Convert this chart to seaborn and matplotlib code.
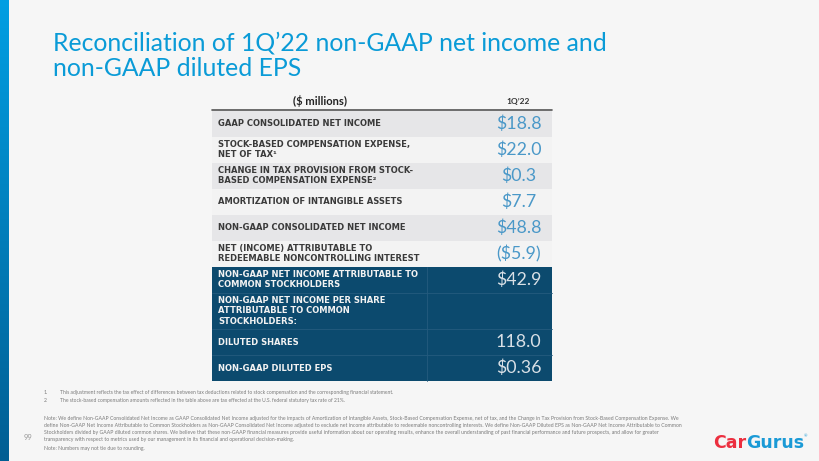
# Importación de las bibliotecas necesarias
import numpy as np                 # Para el degradado de la barra lateral
import matplotlib.pyplot as plt    # Para dibujar la diapositiva
import seaborn as sns              # Para el estilo general

# Datos de la tabla de conciliación
row_labels = [
    "GAAP CONSOLIDATED NET INCOME",
    "STOCK-BASED COMPENSATION EXPENSE,\nNET OF TAX¹",
    "CHANGE IN TAX PROVISION FROM STOCK-\nBASED COMPENSATION EXPENSE²",
    "AMORTIZATION OF INTANGIBLE ASSETS",
    "NON-GAAP CONSOLIDATED NET INCOME",
    "NET (INCOME) ATTRIBUTABLE TO\nREDEEMABLE NONCONTROLLING INTEREST",
    "NON-GAAP NET INCOME ATTRIBUTABLE TO\nCOMMON STOCKHOLDERS",
    "NON-GAAP NET INCOME PER SHARE\nATTRIBUTABLE TO COMMON\nSTOCKHOLDERS:",
    "DILUTED SHARES",
    "NON-GAAP DILUTED EPS",
]
row_values = [18.8, 22.0, 0.3, 7.7, 48.8, -5.9, 42.9, None, 118.0, 0.36]
value_kind = ["usd", "usd", "usd", "usd", "usd", "usd", "usd", None, "shares", "eps"]
highlighted = [False, False, False, False, False, False, True, True, True, True]

period_label = "1Q’22"
unit_label = "($ millions)"
title_lines = ["Reconciliation of 1Q’22 non-GAAP net income and", "non-GAAP diluted EPS"]

footnotes = [
    "This adjustment reflects the tax effect of differences between tax deductions related to stock compensation and the corresponding financial statement.",
    "The stock-based compensation amounts reflected in the table above are tax effected at the U.S. federal statutory tax rate of 21%.",
]
note_lines = [
    "Note: We define Non-GAAP Consolidated Net Income as GAAP Consolidated Net Income adjusted for the impacts of Amortization of Intangible Assets, Stock-Based Compensation Expense, net of tax, and the Change in Tax Provision from Stock-Based Compensation Expense. We",
    "define Non-GAAP Net Income Attributable to Common Stockholders as Non-GAAP Consolidated Net Income adjusted to exclude net income attributable to redeemable noncontrolling interests. We define Non-GAAP Diluted EPS as Non-GAAP Net Income Attributable to Common",
    "Stockholders divided by GAAP diluted common shares. We believe that these non-GAAP financial measures provide useful information about our operating results, enhance the overall understanding of past financial performance and future prospects, and allow for greater",
    "transparency with respect to metrics used by our management in its financial and operational decision-making.",
]
rounding_note = "Note: Numbers may not tie due to rounding."
page_number = "99"


# Función para dar formato a cada valor
def format_value(value, kind):
    if value is None:
        return ""
    if kind == "shares":
        return f"{value:.1f}"
    if kind == "eps":
        return f"${value:.2f}"
    if value < 0:
        return f"(${abs(value):.1f})"
    return f"${value:.1f}"


# Estilo y fuentes
sns.set_theme(style="white")
plt.rcParams["font.family"] = ["Lato", "DejaVu Sans"]

bg = "#f6f6f6"
fig = plt.figure(figsize=(8.2, 4.61), dpi=100, facecolor=bg)
ax = fig.add_axes([0, 0, 1, 1])
ax.set_xlim(0, 820)
ax.set_ylim(461, 0)
ax.axis("off")
ax.set_facecolor(bg)

# Barra lateral con degradado
grad = np.linspace(0, 1, 256).reshape(-1, 1)
cmap = sns.blend_palette(["#009fe3", "#005e93"], as_cmap=True)
ax.imshow(grad, cmap=cmap, extent=(0, 9, 461, 0), aspect="auto", zorder=1)

# Título
for i, line in enumerate(title_lines):
    ax.text(53, 51 + i * 25, line, color="#0a9bd7", fontsize=17.8,
            fontweight="normal", va="baseline", ha="left")

# Geometría de la tabla
x_left, x_right, x_split, x_val = 212, 552, 427, 518.5
y_top = 110.5
heights = [36.5 if lab.count("\n") >= 2 else 26 for lab in row_labels]
tops = y_top + np.concatenate([[0], np.cumsum(heights)[:-1]])
centers = tops + np.array(heights) / 2

colors = []
for i, hl in enumerate(highlighted):
    if hl:
        colors.append("#0c4a6e")
    else:
        colors.append("#e6e6e8" if i % 2 == 0 else "#f3f3f3")

ax.barh(centers, x_right - x_left, height=heights, left=x_left,
        color=colors, edgecolor="none", zorder=2)

# Cabecera
ax.text(320, 101, unit_label, fontsize=8, fontweight="bold", color="#222222",
        ha="center", va="center")
ax.text(x_val, 101, period_label, fontsize=6, fontweight="bold", color="#333333",
        ha="center", va="center")
ax.plot([x_left, x_right], [y_top, y_top], color="#555555", lw=1.2, zorder=3)

# Líneas internas de la zona destacada
dark_idx = [i for i, hl in enumerate(highlighted) if hl]
for i in dark_idx[1:]:
    ax.plot([x_left, x_right], [tops[i], tops[i]], color="#245b7e", lw=0.6, zorder=3)
ax.plot([x_split, x_split], [tops[dark_idx[0]], tops[-1] + heights[-1]],
        color="#245b7e", lw=0.6, zorder=3)

# Textos de filas y valores
for i, (lab, val, kind, hl) in enumerate(zip(row_labels, row_values, value_kind, highlighted)):
    ax.text(218, centers[i], lab, fontsize=6.0, fontweight="bold",
            family=["DejaVu Sans"],
            color="#f2f2f2" if hl else "#3a3a3a", ha="left", va="center",
            linespacing=1.2, zorder=4)
    ax.text(x_val, centers[i], format_value(val, kind), fontsize=12.8, fontweight="normal",
            color="#d9e0e6" if hl else "#4a98c8", ha="center", va="center", zorder=4)

# Notas al pie
foot_color = "#7a7a7a"
for i, txt in enumerate(footnotes):
    ax.text(44, 392 + i * 8, f"{i + 1}.", fontsize=3.65, color=foot_color, va="center")
    ax.text(60, 392 + i * 8, txt, fontsize=3.65, color=foot_color, va="center")
for i, txt in enumerate(note_lines):
    ax.text(44, 418.5 + i * 7, txt, fontsize=3.7, color=foot_color, va="center")
ax.text(44, 448.5, rounding_note, fontsize=3.7, color=foot_color, va="center")
ax.text(24, 437, page_number, fontsize=5.5, color="#9a9a9a", va="center")

# Logotipo
car = ax.text(713, 448, "Car", fontsize=12.5, fontweight="bold", color="#ec2f3f",
              family="DejaVu Sans", va="baseline", ha="left")
gurus = ax.annotate("Gurus", xy=(1, 0), xycoords=car, fontsize=12.5, fontweight="bold",
                    color="#1a9ad6", family="DejaVu Sans", va="bottom", ha="left")
ax.annotate("®", xy=(1, 1), xycoords=gurus, fontsize=3, color="#1a9ad6",
            va="top", ha="left")

fig.savefig("out.png", dpi=100, facecolor=bg)
